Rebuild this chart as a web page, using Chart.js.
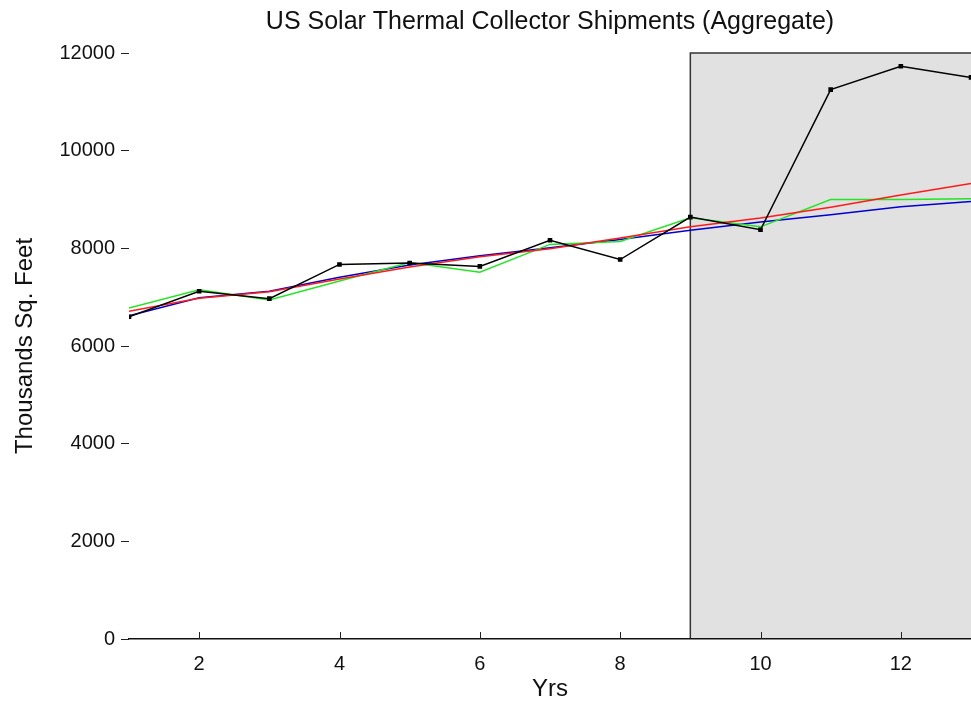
<!DOCTYPE html>
<html lang="en">

<head>
  <meta charset="UTF-8">
  <title>US Solar Thermal Collector Shipments</title>
  <script src="https://cdn.jsdelivr.net/npm/chart.js"></script>
  <style>
    body { margin: 0; background: #fff; overflow: hidden; }
  </style>
</head>

<body>
  <canvas id="chart" width="971" height="707"></canvas>

  <script>
    // values
    const years = [1, 2, 3, 4, 5, 6, 7, 8, 9, 10, 11, 12, 13];
    const actual = [6600, 7120, 6970, 7670, 7700, 7630, 8165, 7770, 8640, 8380, 11250, 11730, 11500];
    const redFit = [6710, 6980, 7110, 7370, 7620, 7830, 7990, 8210, 8440, 8620, 8840, 9090, 9330];
    const greenFit = [6780, 7150, 6940, 7330, 7710, 7510, 8080, 8140, 8625, 8440, 9000, 9000, 9015];
    const blueFit = [6620, 6990, 7120, 7410, 7660, 7850, 8010, 8180, 8370, 8540, 8690, 8850, 8960];
    const xTicks = [2, 4, 6, 8, 10, 12];
    const yTicks = [0, 2000, 4000, 6000, 8000, 10000, 12000];
    const forecastStart = 9;

    const family = "'Liberation Sans', Arial, sans-serif";
    const tickFont = { family, size: 20 };
    const labelFont = { family, size: 24 };

    const toPoints = arr => arr.map((v, i) => ({ x: years[i], y: v }));

    // grey forecast box + upward x tick marks (matlab style)
    const shade = {
      id: 'shade',
      beforeDraw(chart) {
        const { ctx, chartArea, scales: { x, y } } = chart;
        const x1 = x.getPixelForValue(forecastStart);
        const top = y.getPixelForValue(yTicks[yTicks.length - 1]);
        const bottom = y.getPixelForValue(0);
        ctx.save();
        ctx.fillStyle = '#e1e1e1';
        ctx.fillRect(x1, top, chartArea.right - x1 + 4, bottom - top);
        ctx.strokeStyle = '#333';
        ctx.lineWidth = 1.5;
        ctx.beginPath();
        ctx.moveTo(x1, bottom);
        ctx.lineTo(x1, top);
        ctx.lineTo(chartArea.right + 4, top);
        ctx.stroke();
        ctx.restore();
      },
      afterDraw(chart) {
        const { ctx, scales: { x } } = chart;
        ctx.save();
        ctx.strokeStyle = '#222';
        ctx.lineWidth = 1;
        x.ticks.forEach(t => {
          const px = Math.round(x.getPixelForValue(t.value)) + 0.5;
          ctx.beginPath();
          ctx.moveTo(px, x.top);
          ctx.lineTo(px, x.top - 7);
          ctx.stroke();
        });
        ctx.restore();
      }
    };

    const ctx = document.getElementById("chart").getContext("2d");

    const chart = new Chart(ctx, {
      type: 'line',
      data: {
        datasets: [
          { label: 'Actual', data: toPoints(actual), borderColor: '#000', backgroundColor: '#000', borderWidth: 1.5, pointStyle: 'rect', pointRadius: 2.2 },
          { label: 'Red', data: toPoints(redFit), borderColor: '#ff1a1a', borderWidth: 1.5, pointRadius: 0 },
          { label: 'Green', data: toPoints(greenFit), borderColor: '#22e622', borderWidth: 1.5, pointRadius: 0 },
          { label: 'Blue', data: toPoints(blueFit), borderColor: '#0000d0', borderWidth: 1.5, pointRadius: 0 }
        ]
      },
      options: {
        responsive: false,
        animation: false,
        devicePixelRatio: 1,
        layout: { autoPadding: false, padding: { left: 0, right: -2, top: 0, bottom: 0 } },
        plugins: {
          legend: { display: false },
          tooltip: { enabled: false },
          title: {
            display: true,
            text: 'US Solar Thermal Collector Shipments (Aggregate)',
            fullSize: false,
            color: '#111',
            font: { family, size: 25, weight: 'normal' },
            padding: { top: 7, bottom: 16 }
          }
        },
        scales: {
          x: {
            type: 'linear',
            min: 1,
            max: 13,
            afterBuildTicks: s => { s.ticks = xTicks.map(v => ({ value: v })); },
            afterFit: s => { s.height = 68; s.paddingLeft = 0; s.paddingRight = 0; },
            ticks: { color: '#111', font: tickFont, padding: 13, maxRotation: 0 },
            grid: { display: false, drawTicks: false },
            border: { display: true, color: '#111', width: 1.5 },
            title: { display: true, text: 'Yrs', color: '#111', font: labelFont, padding: { top: 0, bottom: 3 } }
          },
          y: {
            min: 0,
            max: 12000,
            afterBuildTicks: s => { s.ticks = yTicks.map(v => ({ value: v })); },
            afterFit: s => { s.width = 129; },
            ticks: { color: '#111', font: tickFont, padding: 6, callback: v => String(v) },
            grid: { drawOnChartArea: false, drawTicks: true, tickLength: 8, color: '#222' },
            border: { display: false },
            title: { display: true, text: 'Thousands Sq. Feet', color: '#111', font: labelFont, padding: { top: 11, bottom: 0 } }
          }
        }
      },
      plugins: [shade]
    });
  </script>
</body>

</html>
